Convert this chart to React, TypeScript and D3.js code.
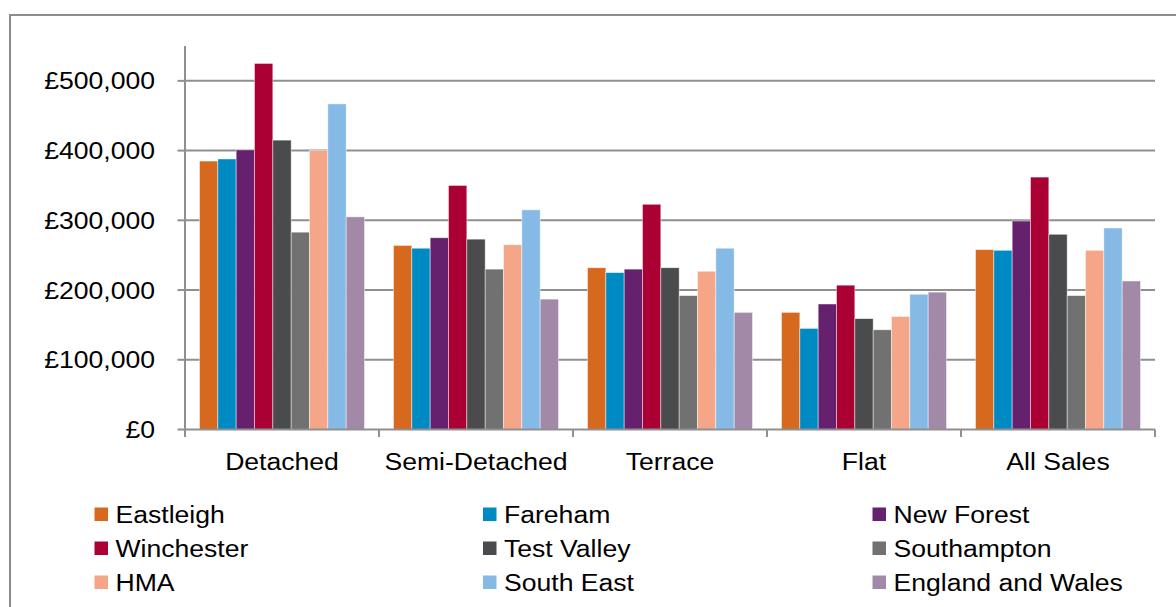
import React from "react";
import * as d3 from "d3";

// House-type categories along the x axis
const categories = ["Detached", "Semi-Detached", "Terrace", "Flat", "All Sales"];

// Areas compared within each category (legend order)
const seriesNames = [
  "Eastleigh",
  "Fareham",
  "New Forest",
  "Winchester",
  "Test Valley",
  "Southampton",
  "HMA",
  "South East",
  "England and Wales",
];

const seriesColors = [
  "#D7691E",
  "#008AC4",
  "#65206E",
  "#AA0033",
  "#4A4B4D",
  "#717171",
  "#F5A689",
  "#86BAE6",
  "#A389A8",
];

// Average prices (£), one array per area, in category order
const eastleigh = [385000, 264000, 232000, 168000, 258000];
const fareham = [388000, 260000, 225000, 145000, 257000];
const newForest = [401000, 275000, 230000, 180000, 299000];
const winchester = [525000, 350000, 323000, 207000, 362000];
const testValley = [415000, 273000, 232000, 159000, 280000];
const southampton = [283000, 230000, 192000, 143000, 192000];
const hma = [400000, 265000, 227000, 162000, 257000];
const southEast = [467000, 315000, 260000, 194000, 289000];
const englandWales = [305000, 187000, 168000, 197000, 213000];

const seriesValues = [
  eastleigh,
  fareham,
  newForest,
  winchester,
  testValley,
  southampton,
  hma,
  southEast,
  englandWales,
];

const yTicks = [0, 100000, 200000, 300000, 400000, 500000];

const W = 1176;
const H = 607;
const FONT = "'Liberation Sans', Arial, sans-serif";
const FS = 24.5;
const SX = 1.085;
const GRID = "#8f8f8f";

const fmt = (v: number) => "£" + d3.format(",")(v);

function Label({
  x,
  y,
  anchor,
  children,
}: {
  x: number;
  y: number;
  anchor: "start" | "middle" | "end";
  children: React.ReactNode;
}) {
  return (
    <text
      transform={`translate(${x},${y}) scale(${SX},1)`}
      textAnchor={anchor}
      fontFamily={FONT}
      fontSize={FS}
      fill="#000"
    >
      {children}
    </text>
  );
}

export default function App() {
  const x0 = d3.scaleBand<string>().domain(categories).range([185, 1155]).padding(0);
  const x1 = d3
    .scaleBand<string>()
    .domain(seriesNames)
    .range([14.5, x0.bandwidth() - 14.5])
    .padding(0);
  const y = d3.scaleLinear().domain([0, 550000]).range([429.5, 46]);

  const plotLeft = x0.range()[0];
  const plotRight = x0.range()[1];
  const boundaries = [...categories.map((c) => x0(c) as number), plotRight];

  const legendCols = [94.5, 483, 872.5];
  const legendRows = [523, 557, 591];

  return (
    <svg
      width={W}
      height={H}
      style={{ position: "absolute", left: 0, top: 0, background: "#fff" }}
    >
      <rect x={0} y={0} width={W} height={H} fill="#fff" />
      {/* chart frame */}
      <path d={`M${W + 5},15 H10 V${H + 5}`} fill="none" stroke="#8c8c8c" strokeWidth={2} />

      {/* horizontal gridlines */}
      {yTicks.slice(1).map((t) => (
        <line
          key={t}
          x1={plotLeft}
          x2={plotRight}
          y1={y(t)}
          y2={y(t)}
          stroke={GRID}
          strokeWidth={2}
        />
      ))}

      {/* bars */}
      {categories.map((c, ci) => (
        <g key={c} transform={`translate(${x0(c)},0)`}>
          {seriesNames.map((s, si) => {
            const v = seriesValues[si][ci];
            return (
              <rect
                key={s}
                x={x1(s)}
                y={y(v)}
                width={x1.bandwidth()}
                height={y(0) - y(v)}
                fill={seriesColors[si]}
                stroke="#ffffff"
                strokeOpacity={0.6}
                strokeWidth={0.75}
              />
            );
          })}
        </g>
      ))}

      {/* y axis */}
      <line x1={plotLeft} x2={plotLeft} y1={46} y2={y(0) + 7.5} stroke={GRID} strokeWidth={2} />
      {yTicks.map((t) => (
        <g key={t}>
          <line x1={plotLeft - 7.5} x2={plotLeft} y1={y(t)} y2={y(t)} stroke={GRID} strokeWidth={2} />
          <Label x={155} y={y(t) + 8.6} anchor="end">
            {fmt(t)}
          </Label>
        </g>
      ))}

      {/* x axis */}
      <line x1={plotLeft} x2={plotRight} y1={y(0)} y2={y(0)} stroke={GRID} strokeWidth={2} />
      {boundaries.map((b, i) => (
        <line key={i} x1={b} x2={b} y1={y(0)} y2={y(0) + 7.5} stroke={GRID} strokeWidth={2} />
      ))}
      {categories.map((c) => (
        <Label key={c} x={(x0(c) as number) + x0.bandwidth() / 2} y={470} anchor="middle">
          {c}
        </Label>
      ))}

      {/* legend */}
      {seriesNames.map((s, i) => {
        const lx = legendCols[i % 3];
        const ly = legendRows[Math.floor(i / 3)];
        return (
          <g key={s}>
            <rect x={lx} y={ly - 15.5} width={13.5} height={13.5} fill={seriesColors[i]} />
            <Label x={lx + 21} y={ly} anchor="start">
              {s}
            </Label>
          </g>
        );
      })}
    </svg>
  );
}
